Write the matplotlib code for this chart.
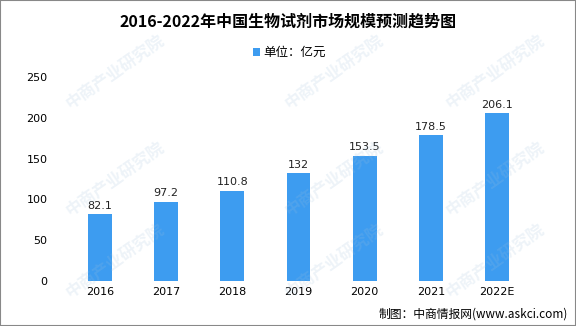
import matplotlib
matplotlib.use("Agg")
import matplotlib.pyplot as plt
from matplotlib.patches import Rectangle

plt.rcParams['font.family'] = ['Noto Sans CJK SC', 'DejaVu Sans']

years = ["2016", "2017", "2018", "2019", "2020", "2021", "2022E"]
market = [82.1, 97.2, 110.8, 132, 153.5, 178.5, 206.1]
value_labels = ["82.1", "97.2", "110.8", "132", "153.5", "178.5", "206.1"]
yticks = [0, 50, 100, 150, 200, 250]

bar_color = "#3d9cf0"

fig = plt.figure(figsize=(5.76, 3.26), dpi=100)
ax = fig.add_axes([67 / 576, 45 / 326, 463 / 576, 204 / 326])

x = range(len(years))
ax.bar(x, market, width=0.36, color=bar_color, label="单位：亿元", zorder=2)
for xi, v, s in zip(x, market, value_labels):
    ax.text(xi, v + 4, s, ha="center", va="bottom", fontsize=8,
            family=["DejaVu Sans"], color="#222222")

ax.set_xlim(-0.5, len(years) - 0.5)
ax.set_ylim(0, 250)
ax.set_xticks(list(x))
ax.set_xticklabels(years, fontsize=8, family=["DejaVu Sans"])
ax.set_yticks(yticks)
ax.set_yticklabels([str(t) for t in yticks], fontsize=8, family=["DejaVu Sans"])
ax.tick_params(length=0, pad=4)
ax.tick_params(axis="y", pad=14)
for sp in ax.spines.values():
    sp.set_visible(False)

fig.text(0.5, 1 - 22 / 326, "2016-2022年中国生物试剂市场规模预测趋势图",
         ha="center", va="center", fontsize=11.5, fontweight="bold")
ax.legend(loc="center", bbox_to_anchor=(0.48, 1.12), frameon=False,
          fontsize=9, handlelength=0.6, handleheight=0.6, handletextpad=0.2)

fig.text(1 - 8 / 576, 1 - 314 / 326, "制图：中商情报网(www.askci.com)",
         ha="right", va="center", fontsize=8.5)

# faint watermark, kept inside the frame
for wx, wy in [(0.2, 0.78), (0.58, 0.78), (0.86, 0.78),
               (0.2, 0.45), (0.58, 0.45), (0.86, 0.45),
               (0.2, 0.2), (0.58, 0.2), (0.86, 0.2)]:
    fig.text(wx, wy, "中商产业研究院", rotation=35, fontsize=12,
             color="#9fc0dc", alpha=0.18, ha="center", va="center",
             fontweight="bold", zorder=0)

fig.patches.append(Rectangle((0, 0), 1, 1, transform=fig.transFigure,
                             fill=False, edgecolor="#888888", linewidth=1.5))

fig.savefig("out.png", dpi=100)
